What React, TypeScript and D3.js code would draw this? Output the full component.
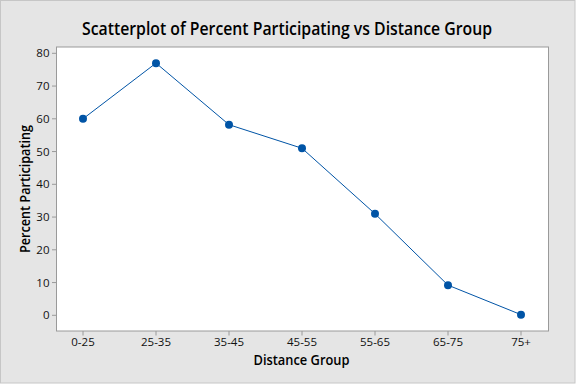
import * as d3 from "d3";

const groups = ["0-25", "25-35", "35-45", "45-55", "55-65", "65-75", "75+"];
const percents = [60, 77, 58.2, 51, 31, 9.2, 0.2];
const yTicks = [0, 10, 20, 30, 40, 50, 60, 70, 80];

const W = 576;
const H = 384;
const plot = { left: 56.5, right: 548.5, top: 47, bottom: 331 };
const font = "'Segoe UI', 'Open Sans', 'Noto Sans', sans-serif";
const blue = "#0054a6";

export default function App() {
  const x = d3.scalePoint<string>()
    .domain(groups)
    .range([83, 521]);

  const y = d3.scaleLinear()
    .domain([0, 80])
    .range([315.3, 53.3]);

  const line = d3.line<number>()
    .x((_, i) => x(groups[i]) as number)
    .y(d => y(d));

  return (
    <svg
      width={W}
      height={H}
      style={{ position: "absolute", left: 0, top: 0, display: "block" }}
    >
      <rect x={0.5} y={0.5} width={W - 1.5} height={H - 1.5} fill="#e5e5e5" stroke="#c6c6c6" />

      <text
        x={287}
        y={35}
        textAnchor="middle"
        fontFamily={font}
        fontSize={18}
        fontWeight={600}
        fill="#000"
        textLength={410}
        lengthAdjust="spacingAndGlyphs"
      >
        Scatterplot of Percent Participating vs Distance Group
      </text>

      <rect
        x={plot.left}
        y={plot.top}
        width={plot.right - plot.left}
        height={plot.bottom - plot.top}
        fill="#fff"
        stroke="#9a9a9a"
      />

      {/* y axis */}
      {yTicks.map(t => (
        <g key={t} transform={`translate(0,${y(t)})`}>
          <line x1={plot.left - 4.5} x2={plot.left} stroke="#9a9a9a" />
          <text
            x={49.5}
            y={4}
            textAnchor="end"
            fontFamily={font}
            fontSize={11.5}
            fontWeight={500}
            fill="#111"
          >
            {t}
          </text>
        </g>
      ))}

      {/* x axis */}
      {groups.map(g => (
        <g key={g} transform={`translate(${x(g)},0)`}>
          <line y1={plot.bottom} y2={plot.bottom + 4.5} stroke="#9a9a9a" />
          <text
            x={0}
            y={346}
            textAnchor="middle"
            fontFamily={font}
            fontSize={11.5}
            fontWeight={500}
            fill="#111"
          >
            {g}
          </text>
        </g>
      ))}

      <text
        x={301.5}
        y={365}
        textAnchor="middle"
        fontFamily={font}
        fontSize={14}
        fontWeight={600}
        fill="#000"
        textLength={96}
        lengthAdjust="spacingAndGlyphs"
      >
        Distance Group
      </text>
      <text
        transform={`translate(30,189) rotate(-90)`}
        textAnchor="middle"
        fontFamily={font}
        fontSize={14}
        fontWeight={600}
        fill="#000"
        textLength={128}
        lengthAdjust="spacingAndGlyphs"
      >
        Percent Participating
      </text>

      <path d={line(percents) ?? ""} fill="none" stroke={blue} strokeWidth={1} />
      {percents.map((v, i) => (
        <circle key={i} cx={x(groups[i])} cy={y(v)} r={4} fill={blue} />
      ))}
    </svg>
  );
}
